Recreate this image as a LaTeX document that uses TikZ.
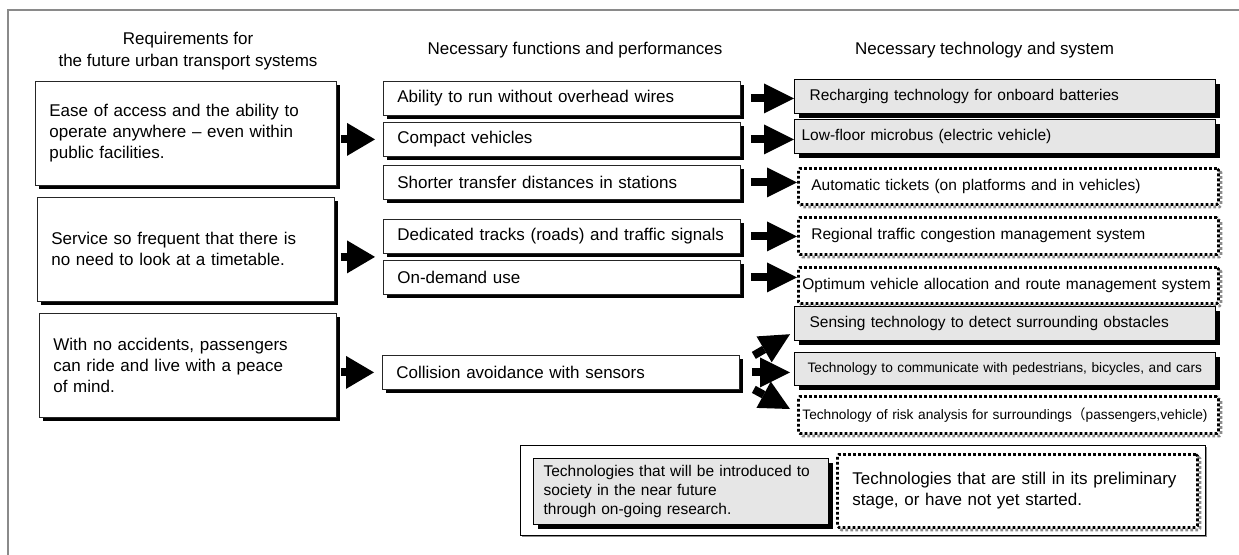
\documentclass[tikz,border=0pt]{standalone}
\usepackage{fontspec}
\setmainfont{Liberation Sans}
\newfontfamily\cjkfont{Noto Sans CJK JP}
\usetikzlibrary{arrows.meta,shadows,calc}
\definecolor{techgray}{HTML}{E6E6E6}
\definecolor{framegray}{HTML}{8A8A8A}
\definecolor{dotshadow}{HTML}{8C8C8C}
\begin{document}
\begin{tikzpicture}[x=1pt,y=-1pt,
  blackshadow/.style={drop shadow={shadow xshift=4pt,shadow yshift=-4pt,fill=black,opacity=1}},
  dotborder/.style={draw=black,line width=2.8pt,dash pattern=on 2.8pt off 2.2pt,rounded corners=1.5pt},
  dotted shadow/.style={general shadow={draw=dotshadow,line width=2.6pt,dash pattern=on 2.8pt off 2.2pt,
      rounded corners=1.5pt,shadow xshift=2.6pt,shadow yshift=-2.6pt}},
  head/.style={font=\fontsize{17}{22}\selectfont},
  reqbox/.style={draw=black!85,line width=0.8pt,fill=white,anchor=north west,blackshadow,
      minimum height=104pt,inner xsep=14pt,align=left,font=\fontsize{17}{21}\selectfont},
  funcbox/.style={draw=black!85,line width=0.8pt,fill=white,anchor=north west,blackshadow,
      minimum height=34pt,inner xsep=14pt,text width=329pt,align=left,font=\fontsize{17}{20}\selectfont},
  techbox/.style={draw=black,line width=1.2pt,fill=techgray,anchor=north west,blackshadow,
      minimum height=34pt,inner xsep=15pt,text width=391pt,align=left,font=\fontsize{15.5}{18}\selectfont},
  planbox/.style={dotborder,dotted shadow,fill=white,anchor=north west,
      minimum height=36pt,inner xsep=13pt,text width=394pt,align=left,font=\fontsize{15.5}{18}\selectfont},
  snug/.style={inner xsep=4pt,text width=412pt},
  small/.style={font=\fontsize{13.7}{16}\selectfont},
  bigarrow/.style={line width=8pt,-{Triangle[width=33pt,length=28pt,line width=0pt]}},
  midarrow/.style={line width=8pt,-{Triangle[width=30pt,length=30pt,line width=0pt]}}
]
\useasboundingbox (0,0) rectangle (1239,554);

% frame
\draw[framegray,line width=1.5pt] (8,560) -- (8,10) -- (1245,10);

% column headings
\node[head,align=center] (h1) at (188,51) {Requirements for\\the future urban transport systems};
\node[head,inner sep=0pt] (h2) at (575,50) {Necessary functions and performances};
\node[head,anchor=west,inner sep=0pt] (h3) at (855,50) {Necessary technology and system};

% requirements
\node[reqbox,text width=273pt] (l1) at (35,81) {Ease of access and the ability to\\operate anywhere -- even within\\public facilities.};
\node[reqbox,text width=269pt] (l2) at (37,197) {Service so frequent that there is\\no need to look at a timetable.};
\node[reqbox,text width=269pt] (l3) at (39,313) {With no accidents, passengers\\can ride and live with a peace\\of mind.};

% functions and performances
\node[funcbox] (m1) at (383,81)  {Ability to run without overhead wires};
\node[funcbox] (m2) at (383,122) {Compact vehicles};
\node[funcbox] (m3) at (383,165) {Shorter transfer distances in stations};
\node[funcbox] (m4) at (383,219) {Dedicated tracks (roads) and traffic signals};
\node[funcbox] (m5) at (383,260) {On-demand use};
\node[funcbox] (m6) at (382,355) {Collision avoidance with sensors};

% technology and systems
\node[techbox] (r1) at (794,79)  {Recharging technology for onboard batteries};
\node[techbox,inner xsep=7pt,text width=407pt] (r2) at (794,119) {Low-floor microbus (electric vehicle)};
\node[planbox] (r3) at (797,167) {Automatic tickets (on platforms and in vehicles)};
\node[planbox,minimum height=37pt] (r4) at (797,216) {Regional traffic congestion management system};
\node[planbox,snug] (r5) at (797,266) {Optimum vehicle allocation and route management system};
\node[techbox] (r6) at (794,306) {Sensing technology to detect surrounding obstacles};
\node[techbox,small,minimum height=33pt,inner xsep=13pt,text width=395pt] (r7) at (794,352) {Technology to communicate with pedestrians, bicycles, and cars};
\node[planbox,snug,small,minimum height=37pt] (r8) at (797,395) {Technology of risk analysis for surroundings{\cjkfont （}passengers,vehicle)};

% requirement -> function arrows
\coordinate (gap) at ($(m4.south west)!0.5!(m5.north west)$);
\draw[bigarrow] ([xshift=4pt]l1.east |- m2.west) -- ([xshift=-8pt]m2.west);
\draw[bigarrow] ([xshift=6pt]l2.east |- gap) -- ([xshift=-8pt]gap);
\draw[bigarrow] ([xshift=4pt]l3.east |- m6.west) -- ([xshift=-8pt]m6.west);

% function -> technology arrows
\draw[midarrow] ([xshift=10pt]m1.east) -- (m1.east -| r1.west);
\draw[midarrow] ([xshift=10pt]m2.east) -- (m2.east -| r2.west);
\draw[midarrow] ([xshift=10pt]m3.east) -- (m3.east -| r3.west);
\draw[midarrow] ([xshift=10pt]m4.east) -- (m4.east -| r4.west);
\draw[midarrow] ([xshift=10pt]m5.east) -- (m5.east -| r5.west);
\draw[midarrow] ($(m6.east)+(14,-17)$) -- ($(r6.south west)+(-4,-7)$);
\draw[midarrow] ([xshift=12pt]m6.east) -- ([xshift=-4pt]m6.east -| r7.west);
\draw[midarrow] ($(m6.east)+(14,17)$) -- ($(r8.north west)+(-7,14)$);

% legend
\draw[dotshadow,line width=1.5pt] (1206.5,447) -- (1206.5,536.5) -- (522,536.5);
\draw[black,line width=0.8pt] (520,445) rectangle (1205,535);
\node[techbox,minimum height=66pt,inner xsep=10pt,text width=275pt,
      font=\fontsize{15.5}{19}\selectfont] (k1) at (533,458)
  {Technologies that will be introduced to\\society in the near future\\through on-going research.};
\node[planbox,minimum height=73pt,inner xsep=15pt,text width=330pt,
      font=\fontsize{17}{21}\selectfont] (k2) at (836,453)
  {Technologies that are still in its preliminary\\stage, or have not yet started.};
\end{tikzpicture}
\end{document}
